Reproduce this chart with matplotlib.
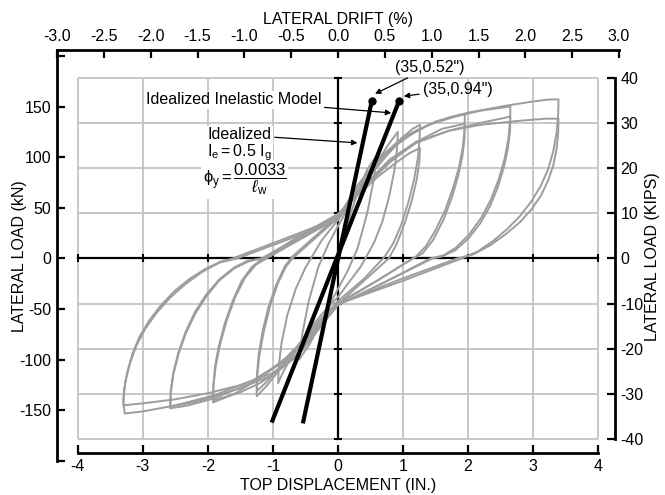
import matplotlib.pyplot as plt
import numpy as np
from matplotlib.ticker import FixedLocator, FuncFormatter

plt.rcParams['font.family'] = ['Liberation Sans', 'DejaVu Sans']
plt.rcParams['mathtext.fontset'] = 'custom'
plt.rcParams['mathtext.rm'] = 'Liberation Sans'
plt.rcParams['mathtext.it'] = 'Liberation Sans:italic'
plt.rcParams['axes.unicode_minus'] = False

KN_PER_KIP = 4.448
WALL_HEIGHT = 144.0  # in., used for the drift axis

# Measured hysteresis, (top displacement in., lateral load kN), one list per cycle
loop_06 = [(0, 0), (0.15, 35), (0.3, 65), (0.45, 88), (0.6, 102),
           (0.55, 78), (0.45, 45), (0.3, 10), (0.15, -12), (0, -30), (-0.15, -48),
           (-0.3, -68), (-0.45, -86), (-0.6, -100),
           (-0.55, -75), (-0.45, -42), (-0.3, -8), (-0.15, 14), (0, 32)]
loop_09 = [(0, 32), (0.2, 55), (0.4, 75), (0.6, 95), (0.78, 113), (0.92, 125),
           (0.91, 110), (0.87, 88), (0.79, 62), (0.68, 36), (0.55, 15), (0.35, -8), (0, -38),
           (-0.25, -55), (-0.5, -75), (-0.7, -95), (-0.85, -113), (-0.92, -123),
           (-0.91, -106), (-0.87, -84), (-0.78, -56), (-0.65, -30), (-0.5, -9), (-0.25, 18), (0, 38)]
loop_13a = [(0, 38), (0.25, 60), (0.5, 82), (0.75, 102), (1.0, 120), (1.15, 128), (1.26, 132),
            (1.255, 118), (1.23, 100), (1.17, 78), (1.08, 55), (0.97, 33), (0.85, 15), (0.72, 2),
            (0.4, -20), (0, -42),
            (-0.3, -62), (-0.6, -85), (-0.9, -108), (-1.1, -122), (-1.25, -131),
            (-1.245, -114), (-1.22, -95), (-1.16, -72), (-1.07, -48), (-0.95, -26), (-0.82, -8),
            (-0.7, 2), (-0.35, 22), (0, 42)]
loop_13b = [(0, 42), (0.3, 62), (0.6, 80), (0.9, 95), (1.1, 104), (1.26, 109),
            (1.25, 95), (1.21, 78), (1.13, 56), (1.02, 34), (0.9, 14), (0.78, 0), (0.4, -22), (0, -45),
            (-0.3, -65), (-0.6, -88), (-0.9, -110), (-1.1, -126), (-1.25, -136),
            (-1.245, -118), (-1.21, -96), (-1.14, -72), (-1.04, -46), (-0.92, -24), (-0.8, -8), (-0.7, 0),
            (-0.35, 20), (0, 40)]
loop_19a = [(0, 40), (0.3, 68), (0.6, 92), (0.9, 112), (1.2, 126), (1.5, 135), (1.75, 140), (1.95, 143),
            (1.945, 128), (1.92, 110), (1.86, 90), (1.77, 70), (1.65, 48), (1.5, 28), (1.35, 12), (1.2, 2),
            (0.6, -22), (0, -44),
            (-0.3, -68), (-0.6, -92), (-0.9, -110), (-1.2, -123), (-1.5, -132), (-1.75, -137), (-1.92, -140),
            (-1.915, -125), (-1.89, -106), (-1.83, -86), (-1.74, -64), (-1.62, -42), (-1.48, -22),
            (-1.32, -8), (-1.15, 0), (-0.6, 22), (0, 44)]
loop_19b = [(0, 44), (0.4, 70), (0.8, 95), (1.2, 115), (1.6, 128), (1.95, 133),
            (1.945, 118), (1.91, 100), (1.85, 82), (1.75, 60), (1.62, 38), (1.46, 18), (1.3, 5), (1.15, 0),
            (0.6, -22), (0, -45),
            (-0.4, -72), (-0.8, -98), (-1.2, -118), (-1.6, -134), (-1.92, -142),
            (-1.915, -126), (-1.88, -106), (-1.81, -84), (-1.71, -61), (-1.58, -38), (-1.43, -19),
            (-1.26, -6), (-1.1, 0), (-0.55, 20), (0, 40)]
loop_26a = [(0, 40), (0.3, 72), (0.6, 95), (1.0, 118), (1.4, 132), (1.8, 140), (2.2, 146), (2.65, 150),
            (2.645, 136), (2.62, 118), (2.56, 98), (2.47, 78), (2.35, 58), (2.2, 40), (2.02, 24),
            (1.82, 11), (1.62, 3), (1.42, 0), (0.7, -24), (0, -46),
            (-0.3, -70), (-0.6, -95), (-1.0, -115), (-1.5, -128), (-2.0, -138), (-2.3, -143), (-2.58, -146),
            (-2.57, -130), (-2.53, -112), (-2.45, -92), (-2.34, -72), (-2.2, -53), (-2.03, -36),
            (-1.83, -21), (-1.6, -9), (-1.38, -2), (-1.15, 0), (-0.6, 20), (0, 42)]
loop_26b = [(0, 42), (0.4, 72), (0.8, 96), (1.2, 114), (1.7, 126), (2.2, 134), (2.65, 140),
            (2.645, 126), (2.61, 108), (2.55, 90), (2.46, 71), (2.34, 52), (2.19, 35), (2.01, 20),
            (1.8, 8), (1.6, 2), (1.45, 0), (0.7, -24), (0, -46),
            (-0.4, -74), (-0.8, -100), (-1.3, -122), (-1.9, -138), (-2.3, -145), (-2.58, -148),
            (-2.57, -132), (-2.53, -114), (-2.45, -94), (-2.34, -74), (-2.2, -55), (-2.03, -38),
            (-1.83, -22), (-1.6, -10), (-1.38, -3), (-1.18, 0), (-0.6, 20), (0, 40)]
loop_34a = [(0, 40), (0.3, 72), (0.6, 97), (1.0, 120), (1.5, 135), (2.0, 144), (2.6, 151), (3.0, 155),
            (3.25, 157), (3.39, 157),
            (3.385, 142), (3.36, 124), (3.31, 106), (3.23, 88), (3.12, 72), (2.98, 57), (2.8, 42),
            (2.6, 29), (2.38, 17), (2.15, 7), (1.9, 0),
            (1.0, -22), (0, -45), (-0.3, -70), (-0.6, -93), (-1.0, -113), (-1.5, -125), (-2.0, -133),
            (-2.5, -139), (-3.0, -143), (-3.3, -145),
            (-3.29, -130), (-3.24, -112), (-3.16, -94), (-3.05, -77), (-2.9, -61), (-2.72, -46),
            (-2.51, -32), (-2.28, -20), (-2.03, -10), (-1.8, -3), (-1.62, 0),
            (-0.8, 20), (0, 40)]
loop_34b = [(0, 40), (0.4, 72), (0.8, 98), (1.2, 115), (1.7, 126), (2.2, 132), (2.8, 136), (3.2, 138),
            (3.39, 138),
            (3.385, 124), (3.36, 108), (3.31, 92), (3.23, 77), (3.12, 62), (2.98, 49), (2.8, 36),
            (2.58, 24), (2.34, 13), (2.08, 4), (1.83, 0),
            (0.9, -22), (0, -45), (-0.4, -75), (-0.8, -100), (-1.3, -120), (-1.9, -135), (-2.5, -145),
            (-3.0, -151), (-3.28, -153),
            (-3.3, -140), (-3.27, -122), (-3.2, -104), (-3.1, -86), (-2.96, -69), (-2.78, -53),
            (-2.57, -38), (-2.34, -25), (-2.08, -13), (-1.82, -4), (-1.55, 0), (-0.8, 18), (0, 38)]
loops = [loop_06, loop_09, loop_13a, loop_13b, loop_19a, loop_19b,
         loop_26a, loop_26b, loop_34a, loop_34b]

# Idealized stiffness lines (in., kips), yield point at 35 kips
ideal_052_x = [-0.54, 0.52]
ideal_052_kip = [-36.6, 35]
ideal_094_x = [-1.02, 0.94]
ideal_094_kip = [-36.4, 35]

disp_ticks = np.arange(-4, 5, 1)
kn_ticks = np.arange(-200, 201, 50)
kip_ticks = np.arange(-40, 41, 10)
drift_ticks = np.arange(-3.0, 3.01, 0.5)

grey = '#9d9d9d'
grid_grey = '#c4c4c4'

fig = plt.figure(figsize=(6.65, 4.95), dpi=100)
ax = fig.add_axes([57 / 665, 1 - 463 / 495, 562 / 665, 413 / 495])
ax.set_xlim(-4.32, 4.32)
ax.set_ylim(-201.9, 205.8)

# grid box in inches / kips
kip_lim = 40 * KN_PER_KIP
ax.vlines(disp_ticks, -kip_lim, kip_lim, color=grid_grey, lw=1.3, zorder=1)
ax.hlines(kip_ticks * KN_PER_KIP, -4, 4, color=grid_grey, lw=1.3, zorder=1)

# black zero axes with their small ticks
ax.plot([-4, 4], [0, 0], color='k', lw=1.6, zorder=2)
ax.plot([0, 0], [-kip_lim, kip_lim], color='k', lw=1.6, zorder=2)
ax.plot(disp_ticks, np.zeros(len(disp_ticks)), ls='', marker='|', ms=6, mew=1.5, color='k', zorder=2)
ax.plot(np.zeros(len(kip_ticks)), kip_ticks * KN_PER_KIP, ls='', marker='_', ms=6, mew=1.5, color='k', zorder=2)

# hysteresis
for loop in loops:
    xs, ys = np.array(loop, dtype=float).T
    ax.plot(xs, ys, color=grey, lw=1.4, zorder=3, solid_joinstyle='round')

# idealized lines
for xs, ks in [(ideal_052_x, ideal_052_kip), (ideal_094_x, ideal_094_kip)]:
    ys = np.array(ks) * KN_PER_KIP
    ax.plot(xs, ys, color='k', lw=3, solid_capstyle='butt', zorder=4)
    ax.plot(xs[1], ys[1], 'o', color='k', ms=5, zorder=5)

arrow = dict(arrowstyle='-|>', color='k', lw=0.9, mutation_scale=8, shrinkA=1, shrinkB=1)
text_box = dict(fc='white', ec='none', pad=1)
ax.annotate('Idealized Inelastic Model', xy=(0.84, 143.6), xytext=(-0.25, 156.5),
            ha='right', va='center', fontsize=11.5, arrowprops=arrow, bbox=text_box, zorder=6)
ax.annotate('(35,0.52")', xy=(0.55, 162), xytext=(0.88, 189),
            ha='left', va='center', fontsize=11.5, arrowprops=arrow, zorder=6)
ax.annotate('(35,0.94")', xy=(0.99, 160), xytext=(1.31, 167.3),
            ha='left', va='center', fontsize=11.5, arrowprops=arrow, zorder=6)
ax.annotate('Idealized', xy=(0.32, 114), xytext=(-2.0, 122),
            ha='left', va='center', fontsize=11.5, arrowprops=arrow, bbox=text_box, zorder=6)
ax.text(-2.02, 104, r'$\mathrm{I_e = 0.5\ I_g}$', ha='left', va='center', fontsize=11.5,
        bbox=text_box, zorder=6)
ax.text(-2.08, 78, r'$\mathrm{\phi_y = }\dfrac{\mathrm{0.0033}}{\ell_\mathrm{w}}$', ha='left',
        va='center', fontsize=12, bbox=text_box, zorder=6)

# left axis: kN
ax.spines['top'].set_visible(False)
ax.spines['right'].set_visible(False)
ax.spines['left'].set_bounds(-200, 205.8)
ax.spines['left'].set_linewidth(2)
ax.yaxis.set_major_locator(FixedLocator(kn_ticks))
ax.yaxis.set_major_formatter(FuncFormatter(lambda v, p: f'{v:.0f}' if abs(v) < 175 else ''))
ax.tick_params(axis='y', direction='in', length=6, width=1.6, labelsize=11.5, pad=4)
ax.set_ylabel('LATERAL LOAD (kN)', fontsize=11.5)
ax.yaxis.set_label_coords(-0.053, 0.5)

# bottom axis: inches
ax.spines['bottom'].set_position(('data', -192))
ax.spines['bottom'].set_bounds(-4, 4)
ax.spines['bottom'].set_linewidth(2)
ax.xaxis.set_major_locator(FixedLocator(disp_ticks))
ax.tick_params(axis='x', direction='in', length=6, width=1.6, labelsize=11.5, pad=4)
ax.set_xlabel('TOP DISPLACEMENT (IN.)', fontsize=11.5)
ax.xaxis.set_label_coords(0.5, -0.036)

# right axis: kips
ax2 = ax.twinx()
ax2.set_ylim(np.array(ax.get_ylim()) / KN_PER_KIP)
for side in ['left', 'top', 'bottom']:
    ax2.spines[side].set_visible(False)
ax2.spines['right'].set_position(('data', 4.26))
ax2.spines['right'].set_bounds(-40, 40)
ax2.spines['right'].set_linewidth(2)
ax2.yaxis.set_major_locator(FixedLocator(kip_ticks))
ax2.tick_params(axis='y', direction='in', length=6, width=1.6, labelsize=11.5, pad=4)
ax2.set_ylabel('LATERAL LOAD (KIPS)', fontsize=11.5)
ax2.yaxis.set_label_coords(1.046, 0.5)

# top axis: drift
top = ax.secondary_xaxis('top', functions=(lambda d: d / WALL_HEIGHT * 100,
                                           lambda p: p * WALL_HEIGHT / 100))
top.spines['top'].set_linewidth(2)
top.xaxis.set_major_locator(FixedLocator(drift_ticks))
top.xaxis.set_major_formatter(FuncFormatter(lambda v, p: f'{v:.1f}'))
top.tick_params(axis='x', direction='in', length=6, width=1.6, labelsize=11.5, pad=4)
top.set_xlabel('LATERAL DRIFT (%)', fontsize=11.5, labelpad=4)

fig.savefig('out.png', dpi=100)
